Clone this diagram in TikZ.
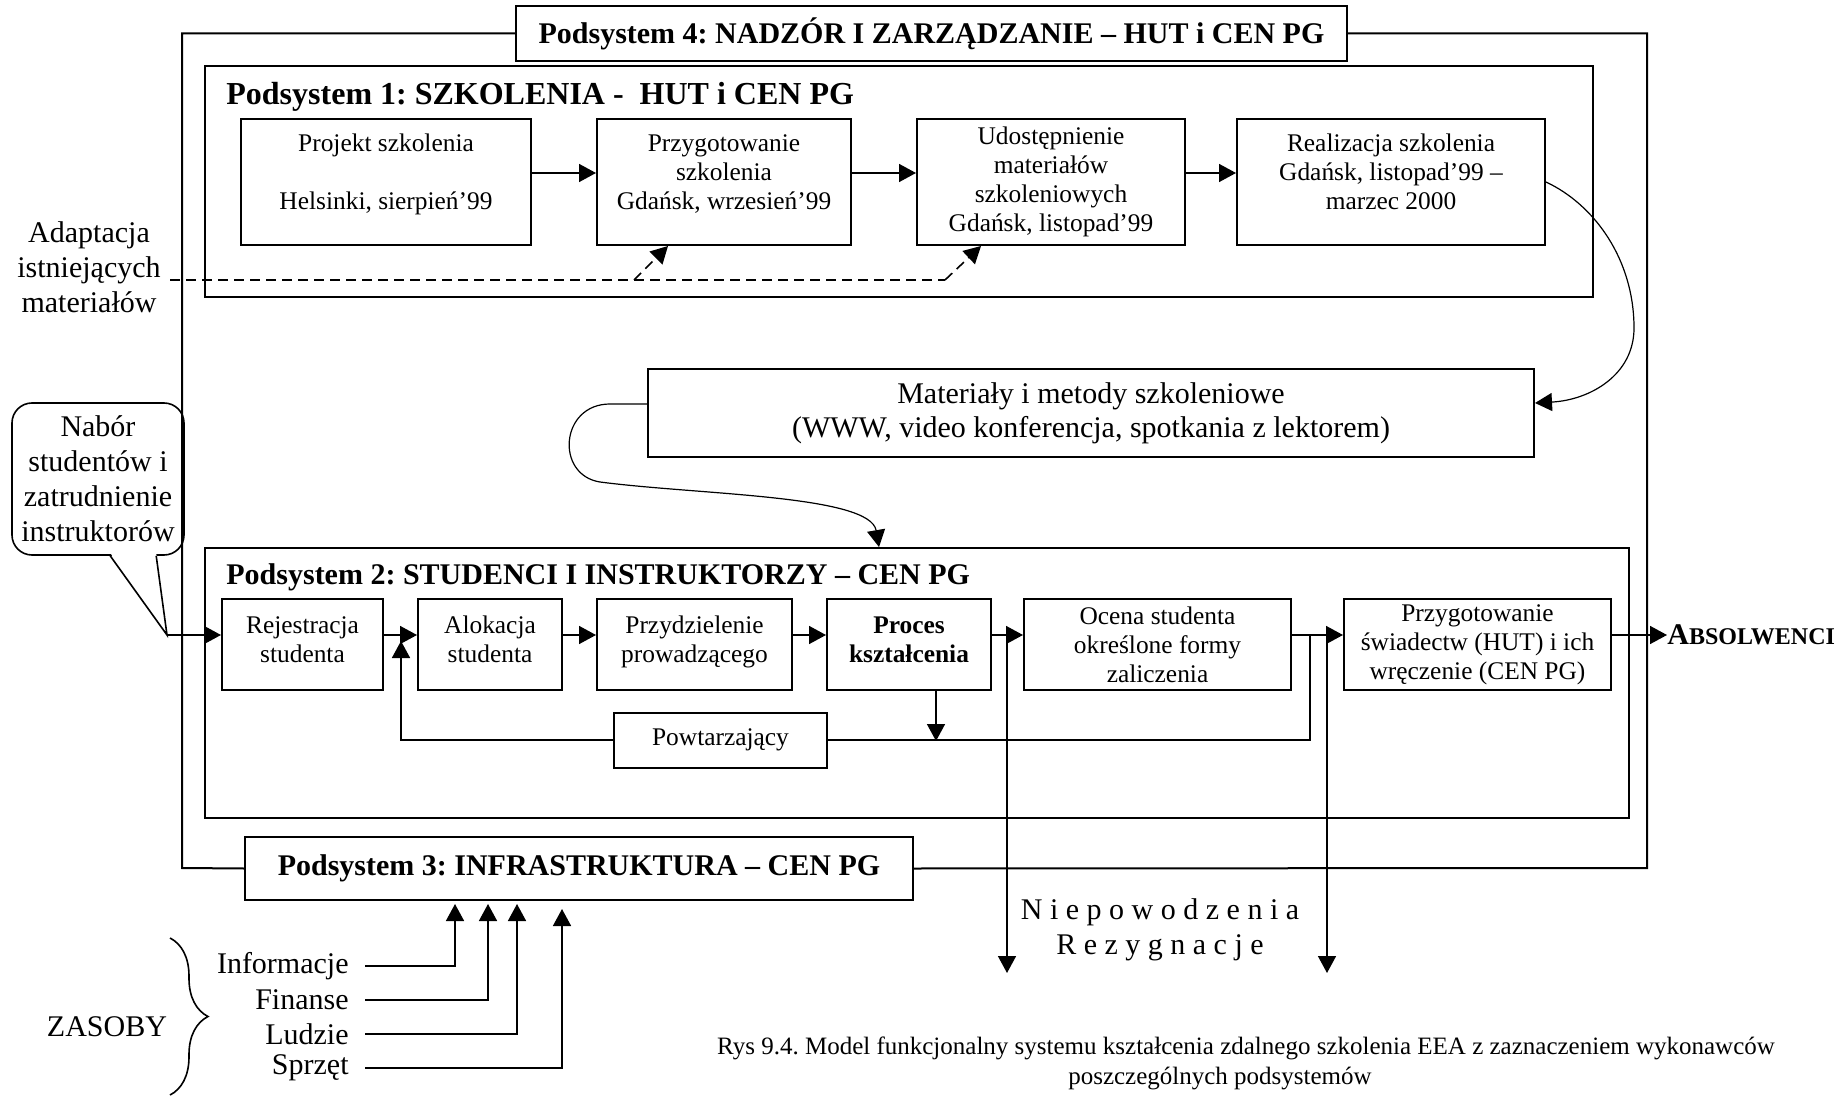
\documentclass[tikz,border=0pt]{standalone}
\usepackage{fontspec}
\setmainfont{Liberation Serif}
\usetikzlibrary{arrows.meta,calc,decorations.pathreplacing}
\tikzset{
  procbox/.style = {draw, line width=1pt, align=center, inner sep=2pt, font=\fontsize{12.7}{14.5}\selectfont},
  group_box/.style = {draw, line width=1pt, inner sep=0pt},
  title_box/.style = {procbox, font=\fontsize{15}{17}\selectfont\bfseries},
  heading/.style = {anchor=west, inner sep=0pt, font=\fontsize{15}{17}\selectfont\bfseries},
  big_text/.style = {align=center, inner sep=0pt, font=\fontsize{15}{17.5}\selectfont},
  wire/.style = {line width=0.8pt},
  dashline/.style = {wire, dash pattern=on 5pt off 3pt},
  arr/.style = {wire, -{Triangle[length=8.5pt,width=9pt]}},
  thin_curve/.style = {line width=0.6pt}
}
\begin{document}
\frenchspacing
\begin{tikzpicture}[x=0.5pt, y=-0.5pt]
\useasboundingbox (0,0) rectangle (1847,1096);
% podsystem 4 (frame) and podsystem 3
\node[title_box, minimum width=415.5pt, minimum height=27.5pt] (t4) at (931.5,33.5) {Podsystem 4: NADZÓR I ZARZĄDZANIE – HUT i CEN PG};
\node[title_box, minimum width=334pt, minimum height=31.5pt] (p3) at (579,868.5) {Podsystem 3: INFRASTRUKTURA – CEN PG};
\draw[line width=1pt] (t4.west) -| (182,868) -- (p3.west);
\draw[line width=1pt] (t4.east) -| (1647,868) -- (p3.east);

% podsystem 1
\node[group_box, minimum width=694pt, minimum height=115.5pt] (p1) at (899,181.5) {};
\node[heading, font=\fontsize{16}{18}\selectfont\bfseries] (h1) at (226,97) {Podsystem 1: SZKOLENIA -\ \ HUT i CEN PG};
\node[procbox, minimum width=145pt, minimum height=63pt, text depth=10pt] (proj) at (386,182) {Projekt szkolenia\\[14.5pt]Helsinki, sierpień’99};
\node[procbox, minimum width=127pt, minimum height=63pt, text depth=10pt] (przy) at (724,182) {Przygotowanie\\szkolenia\\Gdańsk, wrzesień’99};
\node[procbox, minimum width=134pt, minimum height=63pt] (udo) at (1051,182) {Udostępnienie\\materiałów\\szkoleniowych\\Gdańsk, listopad’99};
\node[procbox, minimum width=154pt, minimum height=63pt, text depth=10pt] (real) at (1391,182) {Realizacja szkolenia\\Gdańsk, listopad’99 –\\marzec 2000};
\draw[arr] ([yshift=4.5pt]proj.east) -- ([yshift=4.5pt]przy.west);
\draw[arr] ([yshift=4.5pt]przy.east) -- ([yshift=4.5pt]udo.west);
\draw[arr] ([yshift=4.5pt]udo.east) -- ([yshift=4.5pt]real.west);

% adaptacja
\node[big_text] (adapt) at (89,267) {Adaptacja\\istniejących\\materiałów};
\coordinate (d0) at (170,280);
\coordinate (d1) at (634,280);
\coordinate (d2) at (945,280);
\draw[dashline] (d0) -- (d2);
\draw[dashline, arr] (d1) -- ($(przy.south west)+(72,0)$);
\draw[dashline, arr] (d2) -- ($(udo.south west)+(65,0)$);

% materialy
\node[procbox, font=\fontsize{15}{17}\selectfont, minimum width=443pt, minimum height=44pt] (mat) at (1091,413) {Materiały i metody szkoleniowe\\(WWW, video konferencja, spotkania z lektorem)};
\draw[arr, thin_curve] (real.east) .. controls (1595,205) and (1634,260) .. (1634,328) .. controls (1634,375) and (1590,400) .. ($(mat.east)+(0,-10)$);

% podsystem 2
\node[group_box, minimum width=712pt, minimum height=135pt] (p2) at (917,683) {};
\node[heading] (h2) at (226,577) {Podsystem 2: STUDENCI I INSTRUKTORZY – CEN PG};
\draw[arr, thin_curve] ($(mat.west)+(0,-9)$) -- (610,404) .. controls (560,404) and (555,475) .. (600,482) .. controls (700,495) and (870,495) .. ($(p2.north west)+(675,0)$);
\node[procbox, minimum width=80.5pt, minimum height=45.5pt, text depth=5pt] (rej) at (302.5,644.5) {Rejestracja\\studenta};
\node[procbox, minimum width=72pt, minimum height=45.5pt, text depth=5pt] (alo) at (490,644.5) {Alokacja\\studenta};
\node[procbox, minimum width=97.5pt, minimum height=45.5pt, text depth=5pt] (prd) at (694.5,644.5) {Przydzielenie\\prowadzącego};
\node[procbox, minimum width=82pt, minimum height=45.5pt, text depth=5pt, font=\fontsize{12.7}{14.5}\selectfont\bfseries] (pro) at (909,644.5) {Proces\\kształcenia};
\node[procbox, minimum width=133.5pt, minimum height=45.5pt] (oce) at (1157.5,644.5) {Ocena studenta\\określone formy\\zaliczenia};
\node[procbox, minimum width=133.5pt, minimum height=45.5pt] (swi) at (1477.5,644.5) {Przygotowanie\\świadectw (HUT) i ich\\wręczenie (CEN PG)};
\node[anchor=west, inner sep=0pt, font=\bfseries] (abs) at (1667,635) {{\fontsize{15}{17}\selectfont A}{\fontsize{12}{14}\selectfont BSOLWENCI}};
\draw[arr] ([yshift=4.75pt]rej.east) -- ([yshift=4.75pt]alo.west);
\draw[arr] ([yshift=4.75pt]alo.east) -- ([yshift=4.75pt]prd.west);
\draw[arr] ([yshift=4.75pt]prd.east) -- ([yshift=4.75pt]pro.west);
\draw[arr] ([yshift=4.75pt]pro.east) -- ([yshift=4.75pt]oce.west);
\draw[arr] ([yshift=4.75pt]oce.east) -- ([yshift=4.75pt]swi.west);
\draw[arr] ([yshift=4.75pt]swi.east) -- (abs.west);

% nabor
\node[big_text, draw, line width=0.8pt, rounded corners=10pt, minimum width=86pt, minimum height=76pt] (nab) at (98,479) {Nabór\\studentów i\\zatrudnienie\\instruktorów};
\coordinate (nab_tip) at (167,635);
\fill[white] ($(nab.south west)+(99,-3)$) -- (nab_tip) -- ($(nab.south west)+(145,-3)$) -- cycle;
\draw[wire] ($(nab.south west)+(99,0)$) -- (nab_tip) -- ($(nab.south west)+(145,0)$);
\draw[arr] (nab_tip) -- (nab_tip -| rej.west);

% powtarzajacy
\node[procbox, minimum width=106.5pt, minimum height=27.5pt] (pow) at (720.5,740) {Powtarzający};
\coordinate (loop_r) at (1310,635);
\coordinate (loop_l) at (401,641);
\draw[wire] (loop_r) |- (pow.east);
\draw[arr] (pow.west) -| (loop_l);
\draw[arr] ($(pro.south)+(27,0)$) -- ++(0,50);

% niepowodzenia
\coordinate (drop_a) at (1007,635);
\coordinate (drop_b) at (1327,635);
\draw[arr] (drop_a) -- ++(0,338);
\draw[arr] (drop_b) -- ++(0,338);
\node[big_text] (fail) at (1160,929.5) {N i e p o w o d z e n i a\\R e z y g n a c j e};

% zasoby
\node[big_text, anchor=east, inner sep=4pt] (inf) at (357,966) {Informacje};
\node[big_text, anchor=east, inner sep=4pt] (fin) at (357,1000) {Finanse};
\node[big_text, anchor=east, inner sep=4pt] (lud) at (357,1034) {Ludzie};
\node[big_text, anchor=east, inner sep=4pt] (spr) at (357,1068) {Sprzęt};
\coordinate (in_a) at ($(p3.south west)+(211,3)$);
\coordinate (in_b) at ($(p3.south west)+(244,3)$);
\coordinate (in_c) at ($(p3.south west)+(273,3)$);
\coordinate (in_d) at ($(p3.south west)+(318,8)$);
\draw[arr] ([xshift=4pt]inf.east) -| (in_a);
\draw[arr] ([xshift=4pt]fin.east) -| (in_b);
\draw[arr] ([xshift=4pt]lud.east) -| (in_c);
\draw[arr] ([xshift=4pt]spr.east) -| (in_d);
\draw[wire, decorate, decoration={brace, amplitude=19pt}] (170,938) -- (170,1095);
\node[big_text] (zas) at (107,1027) {ZASOBY};

% podpis
\node[inner sep=0pt, font=\fontsize{12.5}{15}\selectfont] (cap_a) at (1246,1048) {Rys 9.4. Model funkcjonalny systemu kształcenia zdalnego szkolenia EEA z zaznaczeniem wykonawców};
\node[inner sep=0pt, font=\fontsize{12.5}{15}\selectfont] (cap_b) at (1220,1078) {poszczególnych podsystemów};
\end{tikzpicture}
\end{document}
